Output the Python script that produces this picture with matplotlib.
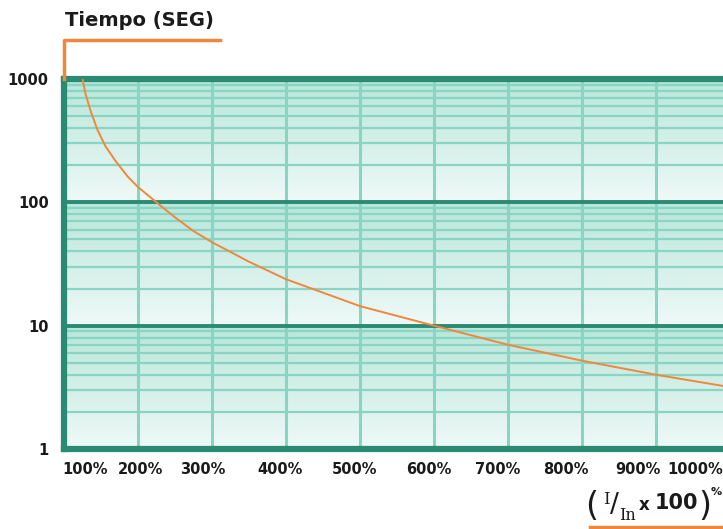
import numpy as np
import matplotlib.pyplot as plt
from matplotlib.lines import Line2D
from matplotlib.colors import to_rgb

# values
x_labels = ["100%", "200%", "300%", "400%", "500%", "600%", "700%", "800%", "900%", "1000%"]
y_labels = ["1", "10", "100", "1000"]
y_ticks = [1, 10, 100, 1000]

# trip curve: x in grid cells (one cell per vertical gridline), time in seconds
curve_x = [0.25, 0.29, 0.36, 0.45, 0.56, 0.70, 0.86, 1.0, 1.25, 1.5, 1.75, 2.0,
           2.5, 3.0, 4.0, 5.0, 6.0, 7.0, 8.0, 8.9]
curve_t = [1000, 760, 550, 390, 285, 215, 162, 133, 100, 75.5, 58.5, 47.5,
           33, 23.8, 14.4, 10, 7.0, 5.2, 4.0, 3.25]

# where the x labels sit (in grid cells)
label_pos = [0.28, 1.03, 1.88, 2.92, 3.93, 4.93, 5.86, 6.78, 7.76, 8.53]

W, H = 723, 529
dark = "#2b8a72"
light = "#86d6c3"
orange = "#f0873a"
ink = "#1a1a1a"
top_col = np.array(to_rgb("#b8e5d9"))
bot_col = np.array(to_rgb("#eff9f7"))


def px(x, y):
    return x / W, 1 - y / H


fig = plt.figure(figsize=(W / 100, H / 100), dpi=100)
x0, x1, y0, y1 = 64, 723, 449, 79
ax = fig.add_axes([x0 / W, 1 - y0 / H, (x1 - x0) / W, (y0 - y1) / H])
ax.set_yscale("log")
ax.set_ylim(1, 1000)
ax.set_xlim(0, (x1 - x0) / 74)

# gradient inside each decade
n = 60
for k in range(3):
    for i in range(n):
        t0, t1 = i / n, (i + 1) / n
        c = bot_col + (top_col - bot_col) * (t0 + t1) / 2
        ax.axhspan(10 ** (k + t0), 10 ** (k + t1), color=c, lw=0, zorder=0)

# grid
for k in range(3):
    for m in range(2, 10):
        ax.axhline(m * 10 ** k, color=light, lw=1.6, zorder=1)
for v in [10, 100]:
    ax.axhline(v, color=dark, lw=2.8, zorder=2)
for g in range(1, 9):
    ax.axvline(g, color=light, lw=2.2, zorder=1.5)

ax.plot(curve_x, curve_t, color=orange, lw=1.4, zorder=3)

for s in ["left", "bottom", "top"]:
    ax.spines[s].set_color(dark)
    ax.spines[s].set_linewidth(4.5)
ax.spines["right"].set_visible(False)

ax.set_yticks(y_ticks, y_labels)
ax.minorticks_off()
ax.set_xticks(label_pos, x_labels)
ax.tick_params(length=0, labelsize=10.5, pad=11)
ax.tick_params(axis="x", pad=9)
for lab in ax.get_xticklabels() + ax.get_yticklabels():
    lab.set_fontweight("bold")
    lab.set_color(ink)

# orange bracket and title
fig.add_artist(Line2D([x0 / W, x0 / W, 220 / W], [1 - y1 / H, 1 - 40 / H, 1 - 40 / H],
                      color=orange, lw=2.5))
fig.text(*px(65, 21), "Tiempo (SEG)", fontsize=14, fontweight="bold",
         color=ink, va="center", ha="left")

# bottom axis title, built piece by piece
fig.text(*px(592, 507), "(", fontsize=24, color=ink, ha="center", va="center")
fig.text(*px(606, 499), "I", fontsize=12, family="DejaVu Serif", color=ink,
         ha="center", va="center")
fig.text(*px(614, 505), "/", fontsize=19, color=ink, ha="center", va="center")
fig.text(*px(627, 516), "In", fontsize=11.5, family="DejaVu Serif", color=ink,
         ha="center", va="center")
fig.text(*px(644, 505), "x", fontsize=12, fontweight="bold", color=ink,
         ha="center", va="center")
fig.text(*px(676, 503), "100", fontsize=15, fontweight="bold", color=ink,
         ha="center", va="center")
fig.text(*px(705, 507), ")", fontsize=24, color=ink, ha="center", va="center")
fig.text(*px(711, 492), "%", fontsize=8, fontweight="bold", color=ink,
         ha="left", va="center")
fig.add_artist(Line2D([590 / W, 1], [1 - 527 / H, 1 - 527 / H], color=orange, lw=2.5))

fig.savefig("out.png", dpi=100)
